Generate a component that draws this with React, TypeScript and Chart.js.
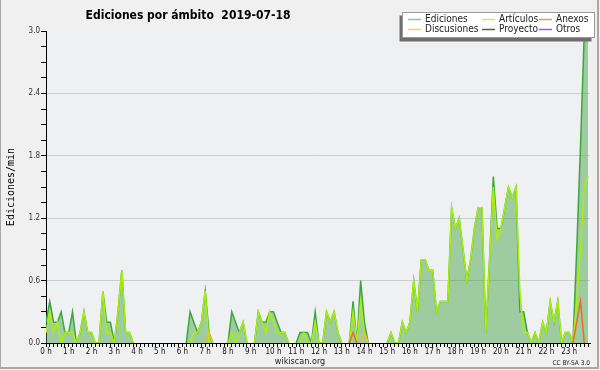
import React, { useEffect, useRef } from 'react';
import { Chart, registerables } from 'chart.js';

Chart.register(...registerables);

// 10-minute slots, 144 per day (each row = 2 hours)
const EDICIONES = [
  0.2, 0.4, 0.2, 0.2, 0.3, 0.1, 0.1, 0.3, 0, 0.1, 0.3, 0.1,
  0.1, 0, 0, 0.5, 0.2, 0.2, 0, 0.3, 0.7, 0.1, 0.1, 0,
  0, 0, 0, 0, 0, 0, 0, 0, 0, 0, 0, 0,
  0, 0, 0.3, 0.2, 0.1, 0.2, 0.5, 0.1, 0, 0, 0, 0,
  0, 0.3, 0.2, 0.1, 0.2, 0, 0, 0, 0.3, 0.2, 0.2, 0.3,
  0.3, 0.2, 0.1, 0.1, 0, 0, 0, 0.1, 0.1, 0.1, 0, 0.3,
  0, 0, 0.3, 0.2, 0.3, 0.1, 0, 0, 0, 0.4, 0, 0.6,
  0.2, 0, 0, 0, 0, 0, 0, 0.1, 0, 0, 0.2, 0.1,
  0.2, 0.6, 0.3, 0.8, 0.8, 0.7, 0.7, 0.3, 0.4, 0.4, 0.4, 1.3,
  1.1, 1.2, 0.9, 0.6, 0.8, 1.1, 1.3, 1.3, 0.1, 0.8, 1.6, 1.1,
  1.1, 1.3, 1.5, 1.4, 1.5, 0.3, 0.3, 0.1, 0, 0.1, 0, 0.2,
  0.1, 0.4, 0.2, 0.4, 0, 0.1, 0.1, 0, 0.9, 1.9, 3.0, 3.0,
];

const ARTICULOS = [
  0.1, 0.3, 0.1, 0.2, 0, 0.1, 0.1, 0.1, 0, 0.1, 0.3, 0.1,
  0.1, 0, 0, 0.5, 0.1, 0.1, 0, 0.3, 0.7, 0.1, 0.1, 0,
  0, 0, 0, 0, 0, 0, 0, 0, 0, 0, 0, 0,
  0, 0, 0, 0.1, 0.1, 0.2, 0.5, 0, 0, 0, 0, 0,
  0, 0.1, 0, 0.1, 0.2, 0, 0, 0, 0.3, 0.2, 0.1, 0.3,
  0.2, 0.1, 0.1, 0.1, 0, 0, 0, 0, 0.1, 0, 0, 0.2,
  0, 0, 0.3, 0.2, 0.3, 0.1, 0, 0, 0, 0.3, 0, 0.4,
  0.1, 0, 0, 0, 0, 0, 0, 0.1, 0, 0, 0.2, 0.1,
  0.2, 0.6, 0.3, 0.8, 0.8, 0.7, 0.7, 0.3, 0.4, 0.4, 0.4, 1.3,
  1.1, 1.2, 0.9, 0.6, 0.8, 1.1, 1.3, 1.3, 0.1, 0.8, 1.5, 1.0,
  1.1, 1.3, 1.5, 1.4, 1.5, 0.5, 0.1, 0.1, 0, 0.1, 0, 0.2,
  0.1, 0.4, 0.2, 0.4, 0, 0.1, 0.1, 0, 0.4, 0.9, 1.5, 1.6,
];

const ANEXOS = [
  0, 0, 0, 0, 0, 0, 0, 0, 0, 0, 0, 0,
  0, 0, 0, 0, 0, 0, 0, 0, 0, 0, 0, 0,
  0, 0, 0, 0, 0, 0, 0, 0, 0, 0, 0, 0,
  0, 0, 0, 0, 0, 0, 0, 0, 0, 0, 0, 0,
  0, 0, 0, 0, 0, 0, 0, 0, 0, 0, 0, 0,
  0, 0, 0, 0, 0, 0, 0, 0, 0, 0, 0, 0,
  0, 0, 0, 0, 0, 0, 0, 0, 0, 0.1, 0, 0,
  0, 0, 0, 0, 0, 0, 0, 0, 0, 0, 0, 0,
  0, 0, 0, 0, 0, 0, 0, 0, 0, 0, 0, 0,
  0, 0, 0, 0, 0, 0, 0, 0, 0, 0, 0, 0,
  0, 0, 0, 0, 0, 0, 0, 0, 0, 0, 0, 0,
  0, 0, 0, 0, 0, 0, 0, 0, 0.2, 0.4, 0, 0,
];

const DISCUSIONES = [
  0, 0, 0, 0, 0, 0, 0, 0, 0, 0, 0, 0,
  0, 0, 0, 0, 0, 0, 0, 0, 0, 0, 0, 0,
  0, 0, 0, 0, 0, 0, 0, 0, 0, 0, 0, 0,
  0, 0, 0, 0, 0, 0, 0, 0.1, 0, 0, 0, 0,
  0, 0, 0, 0, 0, 0, 0, 0, 0, 0, 0, 0,
  0, 0, 0, 0, 0, 0, 0, 0, 0, 0, 0, 0,
  0, 0, 0, 0, 0, 0, 0, 0, 0, 0, 0, 0,
  0.1, 0, 0, 0, 0, 0, 0, 0, 0, 0, 0, 0,
  0, 0, 0, 0, 0, 0, 0, 0, 0, 0, 0, 0,
  0, 0, 0, 0, 0, 0, 0, 0, 0, 0, 0, 0,
  0, 0, 0, 0, 0, 0, 0, 0, 0, 0, 0, 0,
  0, 0, 0, 0, 0, 0, 0, 0, 0, 0, 0, 0,
];

const PROYECTO: number[] = new Array(144).fill(0);
const OTROS: number[] = new Array(144).fill(0);

const HOUR_LABELS = [
  '0 h', '1 h', '2 h', '3 h', '4 h', '5 h', '6 h', '7 h', '8 h', '9 h', '10 h', '11 h',
  '12 h', '13 h', '14 h', '15 h', '16 h', '17 h', '18 h', '19 h', '20 h', '21 h', '22 h', '23 h',
];
const SLOTS_PER_HOUR = 6;
const Y_MAX = 3.0;
const Y_MINOR = 0.15;
const Y_MAJOR_EVERY = 4;

const TITLE = 'Ediciones por ámbito  2019-07-18';
const Y_TITLE = 'Ediciones/min';

const SERIES = [
  { label: 'Ediciones', data: EDICIONES, color: '#3aa83a', legend: '#86cc86', fill: true },
  { label: 'Artículos', data: ARTICULOS, color: '#aaee10', legend: '#c4ee6a', fill: false },
  { label: 'Discusiones', data: DISCUSIONES, color: '#f0c020', legend: '#f2d15e', fill: false },
  { label: 'Anexos', data: ANEXOS, color: '#f06a28', legend: '#f2925e', fill: false },
  { label: 'Proyecto', data: PROYECTO, color: '#555555', legend: '#5a5a5a', fill: false },
  { label: 'Otros', data: OTROS, color: '#8c44e8', legend: '#9a5ee6', fill: false },
];

// legend layout: [series label, column, row]
const LEGEND_GRID: [string, number, number][] = [
  ['Ediciones', 0, 0], ['Artículos', 1, 0], ['Anexos', 2, 0],
  ['Discusiones', 0, 1], ['Proyecto', 1, 1], ['Otros', 2, 1],
];

const FONT = '"DejaVu Sans Condensed", "DejaVu Sans", sans-serif';

// hide runs of zeros (keep the points touching non-zero values)
const sparse = (a: number[]) =>
  a.map((v, i) => ({
    x: i,
    y: v !== 0 || (a[i - 1] ?? 0) !== 0 || (a[i + 1] ?? 0) !== 0 ? v : null,
  }));

const bgPlugin = {
  id: 'bg',
  beforeDraw(chart: any) {
    const { ctx, chartArea: a, width, height } = chart;
    ctx.save();
    ctx.fillStyle = '#f0f0f0';
    ctx.fillRect(0, 0, width, height);
    ctx.fillStyle = '#eef0f2';
    ctx.fillRect(a.left, a.top, a.right - a.left, a.bottom - a.top);
    ctx.restore();
  },
};

const decorPlugin = {
  id: 'decor',
  afterDraw(chart: any) {
    const { ctx } = chart;
    ctx.save();
    // title
    ctx.fillStyle = '#000';
    ctx.font = `bold 12px ${FONT}`;
    ctx.textAlign = 'center';
    ctx.textBaseline = 'alphabetic';
    ctx.fillText(TITLE, 188, 18.5);

    // legend box with shadow
    const bx = 402.5, by = 12.5, bw = 192, bh = 25;
    ctx.fillStyle = '#6e6e6e';
    ctx.fillRect(bx - 3, by + 3, bw, bh + 1);
    ctx.fillStyle = '#ffffff';
    ctx.fillRect(bx, by, bw, bh);
    ctx.strokeStyle = '#9a9a9a';
    ctx.lineWidth = 1;
    ctx.strokeRect(bx, by, bw, bh);

    const colX = [408, 482, 539];
    const rowY = [19.5, 29.5];
    ctx.font = `10px ${FONT}`;
    ctx.textAlign = 'left';
    ctx.textBaseline = 'middle';
    LEGEND_GRID.forEach(([label, c, r]) => {
      const s = SERIES.find((q) => q.label === label)!;
      const x = colX[c];
      const y = rowY[r];
      ctx.strokeStyle = s.legend;
      ctx.lineWidth = 1.5;
      ctx.beginPath();
      ctx.moveTo(x, y);
      ctx.lineTo(x + 13, y);
      ctx.stroke();
      ctx.fillStyle = '#222';
      ctx.fillText(label, x + 17, y);
    });

    // footer
    ctx.textBaseline = 'alphabetic';
    ctx.fillStyle = '#222';
    ctx.font = `9px ${FONT}`;
    ctx.textAlign = 'center';
    ctx.fillText('wikiscan.org', 300, 363.5);
    ctx.font = `6.5px ${FONT}`;
    ctx.textAlign = 'right';
    ctx.fillText('CC BY-SA 3.0', 590, 365);

    // frame
    ctx.fillStyle = '#a8a8a8';
    ctx.fillRect(0, 0, 1, 369);
    ctx.fillRect(597, 0, 2, 369);
    ctx.fillRect(0, 367, 599, 2);
    ctx.restore();
  },
};

export default function App() {
  const ref = useRef<HTMLCanvasElement | null>(null);

  useEffect(() => {
    document.body.style.margin = '0';
    const canvas = ref.current!;
    const datasets = SERIES.slice().map((s, idx) => ({
      label: s.label,
      data: sparse(s.data),
      borderColor: s.color,
      backgroundColor: s.fill ? 'rgba(60,160,60,0.45)' : s.color,
      borderWidth: 1.5,
      fill: s.fill ? 'origin' : false,
      pointRadius: 0,
      tension: 0,
      spanGaps: false,
      order: SERIES.length - idx,
    }));

    const chart = new Chart(canvas, {
      type: 'line',
      data: { datasets } as any,
      options: {
        responsive: false,
        animation: false,
        devicePixelRatio: 1,
        layout: { padding: { top: 31, right: 10, left: 0, bottom: 0 } },
        plugins: {
          legend: { display: false },
          title: { display: false },
          tooltip: { enabled: false },
        },
        scales: {
          x: {
            type: 'linear',
            min: 0,
            max: HOUR_LABELS.length * SLOTS_PER_HOUR - 0.5,
            z: 1,
            afterFit: (s: any) => { s.height = 27; },
            afterBuildTicks: (s: any) => {
              s.ticks = Array.from({ length: HOUR_LABELS.length * SLOTS_PER_HOUR }, (_, i) => ({ value: i }));
            },
            ticks: {
              autoSkip: false,
              maxRotation: 0,
              minRotation: 0,
              padding: 0,
              color: '#111',
              font: { family: FONT, size: 8 },
              callback: (v: any) => (Number(v) % SLOTS_PER_HOUR === 0 ? HOUR_LABELS[Number(v) / SLOTS_PER_HOUR] : ''),
            },
            grid: { drawOnChartArea: false, drawTicks: true, tickLength: 4, tickColor: '#000', tickWidth: 1 },
            border: { display: true, color: '#000', width: 1 },
          },
          y: {
            type: 'linear',
            min: 0,
            max: Y_MAX,
            afterFit: (s: any) => { s.width = 46; },
            afterBuildTicks: (s: any) => {
              const n = Math.round(Y_MAX / Y_MINOR);
              s.ticks = Array.from({ length: n + 1 }, (_, k) => ({ value: Math.round(k * Y_MINOR * 100) / 100 }));
            },
            ticks: {
              autoSkip: false,
              padding: 1,
              color: '#333',
              font: { family: FONT, size: 8 },
              callback: (v: any) => {
                const k = Math.round(Number(v) / Y_MINOR);
                return k % Y_MAJOR_EVERY === 0 ? Number(v).toFixed(1) : '';
              },
            },
            grid: {
              color: (c: any) => {
                const v = c.tick ? c.tick.value : 0;
                const k = Math.round(v / Y_MINOR);
                return k % Y_MAJOR_EVERY === 0 && k !== 0 && v < Y_MAX ? '#cccccc' : 'rgba(0,0,0,0)';
              },
              tickColor: '#000',
              tickLength: 5,
              drawTicks: true,
            },
            border: { display: true, color: '#000', width: 1 },
            title: {
              display: true,
              text: Y_TITLE,
              color: '#000',
              font: { family: '"DejaVu Sans Mono", monospace', size: 10 },
              padding: { top: 5, bottom: 0 },
            },
          },
        },
      } as any,
      plugins: [bgPlugin, decorPlugin],
    });
    return () => chart.destroy();
  }, []);

  return (
    <div style={{ width: 600, height: 370 }}>
      <canvas ref={ref} width={600} height={370} style={{ display: 'block' }} />
    </div>
  );
}
